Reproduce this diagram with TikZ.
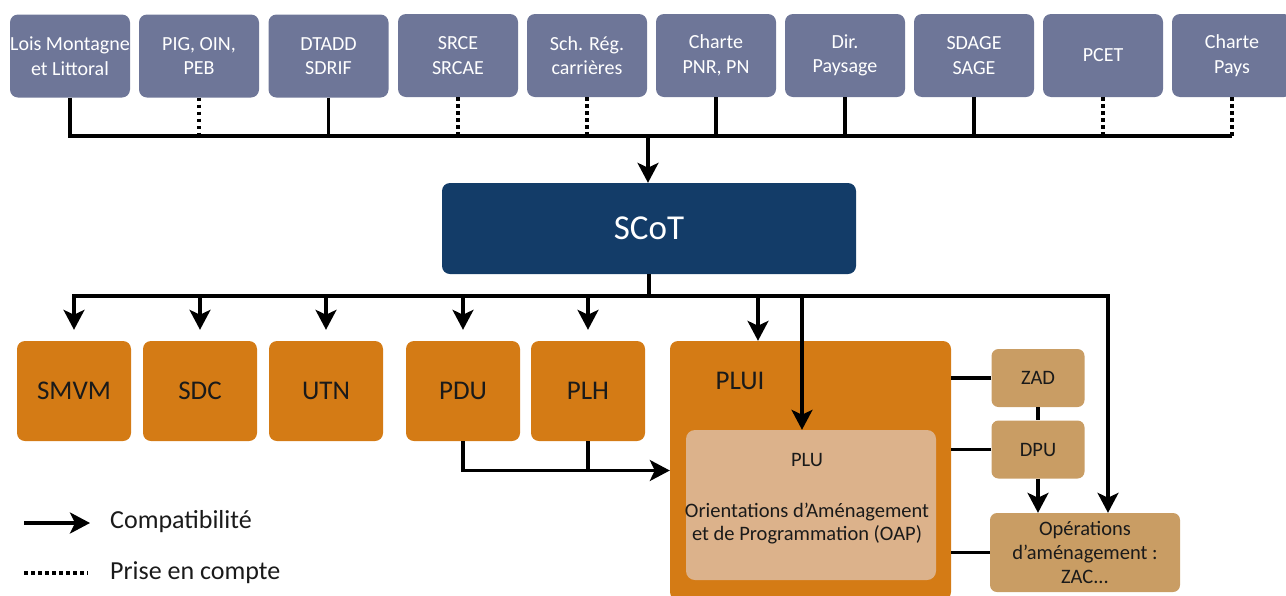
\documentclass[tikz,border=0pt]{standalone}
\usepackage{fontspec}
\setmainfont{Carlito}
\usetikzlibrary{arrows.meta,calc}
\definecolor{topc}{HTML}{6E7698}
\definecolor{scotc}{HTML}{133C68}
\definecolor{orc}{HTML}{D47B15}
\definecolor{tanc}{HTML}{C99D64}
\definecolor{pluc}{HTML}{DCB28B}
\definecolor{txtc}{HTML}{1A1A1A}
\begin{document}
\begin{tikzpicture}[x=1pt,y=-1pt,
  topbox/.style={fill=topc, rounded corners=8pt, minimum width=120pt, minimum height=83pt, inner sep=0pt, text=white, font=\fontsize{20}{24.5}\selectfont, align=center},
  scotbox/.style={fill=scotc, rounded corners=8pt, minimum width=414pt, minimum height=91pt, inner sep=0pt, text=white, font=\fontsize{35}{40}\selectfont},
  orbox/.style={fill=orc, rounded corners=8pt, minimum width=114pt, minimum height=100pt, inner sep=0pt, text=txtc, font=\fontsize{27}{30}\selectfont},
  tanbox/.style={fill=tanc, rounded corners=7pt, inner sep=0pt, text=txtc, font=\fontsize{20.5}{24}\selectfont, align=center},
  txt/.style={inner sep=0pt, text=txtc},
  conn/.style={line width=3.2pt, line join=miter},
  arr/.style={conn, -{Stealth[length=20pt,width=21pt,inset=5pt]}},
  dot/.style={line width=3.2pt, dash pattern=on 3.5pt off 3.5pt},
]
\useasboundingbox (0,0) rectangle (1286,595);

% top row
\node[topbox] (t1) at (70,56) {Lois Montagne\\et Littoral};
\node[topbox] (t2) at (199,56) {PIG, OIN,\\PEB};
\node[topbox] (t3) at (328.5,56) {DTADD\\SDRIF};
\node[topbox] (t4) at (458,55.5) {SRCE\\SRCAE};
\node[topbox] (t5) at (587,55.5) {Sch. Rég.\\carrières};
\node[topbox] (t6) at (716,55.5) {Charte\\PNR, PN};
\node[topbox] (t7) at (845,55.5) {Dir.\\Paysage};
\node[topbox] (t8) at (974,55.5) {SDAGE\\SAGE};
\node[topbox] (t9) at (1103,55.5) {PCET};
\node[topbox] (t10) at (1232,55.5) {Charte\\Pays};

\coordinate (bus1) at (648,136);
\draw[conn] (t1.south) |- (t10.south |- bus1);
\foreach \n in {t3,t6,t7,t8} \draw[conn] (\n.south) -- (\n.south |- bus1);
\foreach \n in {t2,t4,t5,t9,t10} \draw[dot] (\n.south) -- (\n.south |- bus1);

% SCoT
\node[scotbox] (scot) at (649,228.5) {SCoT};
\draw[arr] (bus1) -- (bus1 |- scot.north);

% second level
\node[orbox] (smvm) at (74,391) {SMVM};
\node[orbox] (sdc) at (200,391) {SDC};
\node[orbox] (utn) at (326,391) {UTN};
\node[orbox] (pdu) at (463,391) {PDU};
\node[orbox] (plh) at (588,391) {PLH};

\node[fill=orc, minimum width=281pt, minimum height=259pt, inner sep=0pt, rounded corners=8pt] (plui) at (810.5,470.5) {};
\node[txt, font=\fontsize{27}{30}\selectfont] (pluilbl) at (740,381) {PLUI};
\node[fill=pluc, rounded corners=9pt, minimum width=250pt, minimum height=150pt, inner sep=0pt] (plu) at (811,505) {};
\node[txt, font=\fontsize{20.5}{23.5}\selectfont, align=center] (plutxt) at (807,499) {PLU\\[27pt]Orientations d’Aménagement\\et de Programmation (OAP)};

\node[tanbox, minimum width=93pt, minimum height=58pt] (zad) at (1038,378) {ZAD};
\node[tanbox, minimum width=93pt, minimum height=58pt] (dpu) at (1038,449.5) {DPU};
\node[tanbox, minimum width=190pt, minimum height=79pt] (ops) at (1085,552.5) {Opérations\\d’aménagement :\\ZAC...};

\coordinate (bus2) at (649,296);
\coordinate (rgt) at (1108,296);
\coordinate (pa) at (758,296);
\coordinate (pb) at (802,296);
\draw[conn] (scot.south) -- (bus2);
\draw[arr, shorten >=11pt] (bus2) -| (smvm.north);
\draw[arr] (bus2) -| (rgt |- ops.north);
\foreach \n in {sdc,utn,pdu,plh} \draw[arr, shorten >=11pt] (\n.north |- bus2) -- (\n.north);
\draw[arr] (pa) -- (pa |- plui.north);
\draw[arr] (pb) -- (pb |- plu.north);

\draw[arr] (pdu.south) |- (plui.west);
\draw[conn] (plh.south) -- (plh.south |- plui.west);

\draw[conn] (zad.west) -- (zad.west -| plui.east);
\draw[conn] (dpu.west) -- (dpu.west -| plui.east);
\draw[conn] (ops.west) -- (ops.west -| plui.east);
\draw[conn] (zad.south) -- (dpu.north);
\draw[arr] (dpu.south) -- (dpu.south |- ops.north);

% legend
\coordinate (la1) at (24,523);
\coordinate (la2) at (90,523);
\coordinate (lb1) at (24,573);
\coordinate (lb2) at (88,573);
\draw[arr] (la1) -- (la2);
\draw[dot] (lb1) -- (lb2);
\node[txt, anchor=west, font=\fontsize{26}{30}\selectfont] (lt1) at (110,522) {Compatibilité};
\node[txt, anchor=west, font=\fontsize{26}{30}\selectfont] (lt2) at (110,573) {Prise en compte};
\end{tikzpicture}
\end{document}
